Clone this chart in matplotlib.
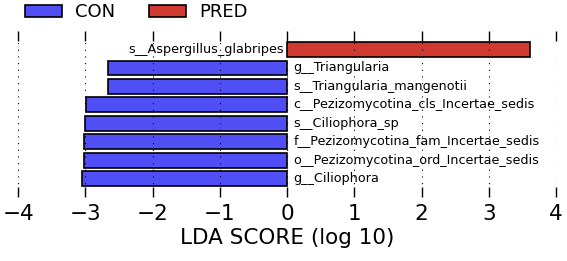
import numpy as np
import matplotlib
matplotlib.use('Agg')
import matplotlib.pyplot as plt
from matplotlib.patches import Patch

features = ['s__Aspergillus_glabripes', 'g__Triangularia', 's__Triangularia_mangenotii',
            'c__Pezizomycotina_cls_Incertae_sedis', 's__Ciliophora_sp',
            'f__Pezizomycotina_fam_Incertae_sedis', 'o__Pezizomycotina_ord_Incertae_sedis',
            'g__Ciliophora']
scores = [3.61, -2.66, -2.66, -2.99, -3.00, -3.02, -3.02, -3.05]
groups = ['PRED', 'CON', 'CON', 'CON', 'CON', 'CON', 'CON', 'CON']
group_colors = {'CON': '#4f4ff5', 'PRED': '#d03a30'}
xticks = [-4, -3, -2, -1, 0, 1, 2, 3, 4]

fig = plt.figure(figsize=(5.67, 2.61), dpi=100)
ax = fig.add_axes([0.032, 0.245, 0.949, 0.636])

pos = np.arange(len(features))[::-1]
for y, f, s, g in zip(pos, features, scores, groups):
    ax.barh(y, s, height=0.8, color=group_colors[g], edgecolor='black', linewidth=1.2)
    if s < 0:
        ax.text(0.09, y, f, ha='left', va='center', fontsize=9.2)
    else:
        ax.text(-0.05, y, f, ha='right', va='center', fontsize=9.2)

ax.set_xlim(-4, 4)
ax.set_ylim(-1, len(features))
ax.set_xticks(xticks)
ax.set_xticklabels([f'\u2212{abs(t)}' if t < 0 else str(t) for t in xticks], fontsize=15.5)
ax.set_yticks([])
for sp in ax.spines.values():
    sp.set_visible(False)
ax.tick_params(axis='x', direction='in', top=True, bottom=True, length=7, width=1, pad=5)
# grid dots sit on top of the bars, as in LEfSe output
ax.grid(axis='x', linestyle=(0, (1, 5)), color='black', linewidth=0.8)
ax.set_axisbelow(False)
ax.set_xlabel('LDA SCORE (log 10)', fontsize=15.5, labelpad=3)

handles = [Patch(facecolor=group_colors[g], edgecolor='black', linewidth=1.2, label=g)
           for g in ['CON', 'PRED']]
fig.legend(handles=handles, loc='upper left', bbox_to_anchor=(0.016, 1.05), ncol=2,
           frameon=False, fontsize=13, handlelength=2.05, handleheight=0.67,
           handletextpad=0.7, columnspacing=1.9)

fig.savefig('out.png', dpi=100)
